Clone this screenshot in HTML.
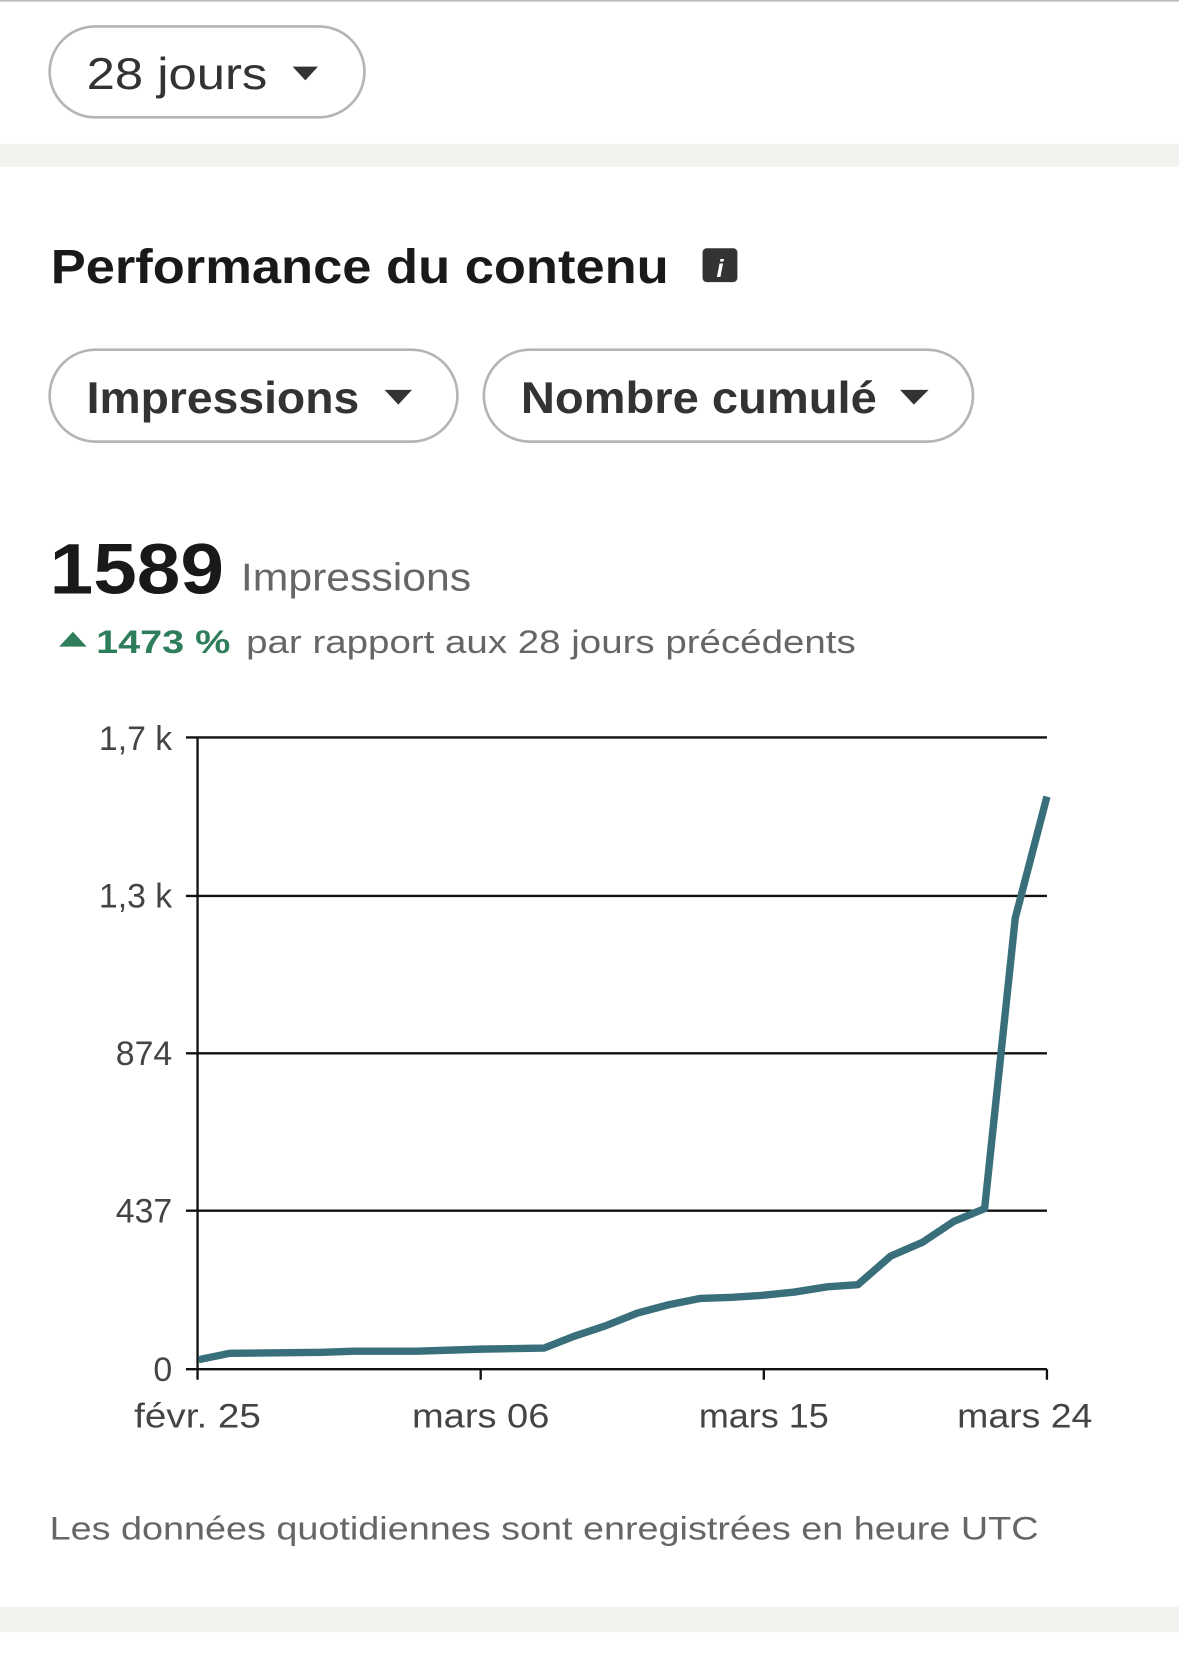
<!DOCTYPE html>
<html><head><meta charset="utf-8"><style>html,body{margin:0;padding:0;background:#fff}svg{display:block}</style></head><body>
<svg width="1179" height="1657" viewBox="0 0 1116 1568.4" xmlns="http://www.w3.org/2000/svg" font-family="Liberation Sans, sans-serif">
<rect x="0" y="0" width="1116" height="1568.4" fill="#fff"/>
<rect x="0" y="0" width="1116" height="1.5" fill="#bbb"/>
<rect x="47" y="25" width="298" height="86" rx="43" fill="#fff" stroke="#b5b5b5" stroke-width="2.5"/>
<text x="82" y="84" font-size="42" fill="#333" textLength="171" lengthAdjust="spacingAndGlyphs">28 jours</text>
<path d="M277 63 L301 63 L289 76 Z" fill="#333"/>
<rect x="0" y="136" width="1116" height="22" fill="#f3f2ef"/>
<text x="48" y="268" font-size="46" font-weight="bold" fill="#191919" textLength="585" lengthAdjust="spacingAndGlyphs">Performance du contenu</text>
<rect x="665" y="235" width="33" height="32" rx="4" fill="#333"/>
<text x="681.5" y="262" font-size="24" font-weight="bold" font-style="italic" fill="#fff" text-anchor="middle">i</text>
<rect x="47" y="331" width="386" height="87" rx="43.5" fill="#fff" stroke="#b5b5b5" stroke-width="2.5"/>
<text x="82" y="391" font-size="42" font-weight="bold" fill="#333" textLength="258" lengthAdjust="spacingAndGlyphs">Impressions</text>
<path d="M364 369 L390 369 L377 383 Z" fill="#333"/>
<rect x="458" y="331" width="463" height="87" rx="43.5" fill="#fff" stroke="#b5b5b5" stroke-width="2.5"/>
<text x="493" y="391" font-size="42" font-weight="bold" fill="#333" textLength="337" lengthAdjust="spacingAndGlyphs">Nombre cumulé</text>
<path d="M852 369 L879 369 L865 383 Z" fill="#333"/>
<text x="47" y="562" font-size="68" font-weight="bold" fill="#191919" textLength="165" lengthAdjust="spacingAndGlyphs">1589</text>
<text x="228" y="559" font-size="37" fill="#666" textLength="218" lengthAdjust="spacingAndGlyphs">Impressions</text>
<path d="M56 612 L82 612 L69 598 Z" fill="#2e7d5b"/>
<text x="91" y="618" font-size="31" font-weight="bold" fill="#2e7d5b" textLength="127" lengthAdjust="spacingAndGlyphs">1473 %</text>
<text x="233" y="618" font-size="31" fill="#666" textLength="577" lengthAdjust="spacingAndGlyphs">par rapport aux 28 jours précédents</text>
<g stroke="#111" stroke-width="2.2">
<line x1="176" y1="698" x2="991" y2="698"/>
<line x1="176" y1="848" x2="991" y2="848"/>
<line x1="176" y1="997" x2="991" y2="997"/>
<line x1="176" y1="1146" x2="991" y2="1146"/>
<line x1="176" y1="1296" x2="991" y2="1296"/>
<line x1="187" y1="698" x2="187" y2="1306"/>
<line x1="455" y1="1296" x2="455" y2="1306"/>
<line x1="723" y1="1296" x2="723" y2="1306"/>
<line x1="991" y1="1296" x2="991" y2="1306"/>
</g>
<g font-size="32" fill="#444" text-anchor="end">
<text x="163" y="710">1,7 k</text>
<text x="163" y="859">1,3 k</text>
<text x="163" y="1008">874</text>
<text x="163" y="1157">437</text>
<text x="163" y="1307">0</text>
</g>
<g font-size="32" fill="#444" text-anchor="middle">
<text x="187" y="1351" textLength="120" lengthAdjust="spacingAndGlyphs">févr. 25</text>
<text x="455" y="1351" textLength="130" lengthAdjust="spacingAndGlyphs">mars 06</text>
<text x="723" y="1351" textLength="123" lengthAdjust="spacingAndGlyphs">mars 15</text>
<text x="970" y="1351" textLength="128" lengthAdjust="spacingAndGlyphs">mars 24</text>
</g>
<polyline fill="none" stroke="#396f7b" stroke-width="7" stroke-linejoin="round" points="188,1287 217,1281 305,1280 335,1279 395,1279 455,1277 515,1276 543,1265 573,1255 603,1243 633,1235 663,1229 693,1228 723,1226 752,1223 783,1218 812,1216 843,1189 873,1176 903,1156 932,1144 961,869 991,754"/>
<text x="47" y="1457" font-size="31" fill="#666" textLength="936" lengthAdjust="spacingAndGlyphs">Les données quotidiennes sont enregistrées en heure UTC</text>
<rect x="0" y="1521" width="1116" height="24" fill="#f3f2ef"/>
</svg>
</body></html>
